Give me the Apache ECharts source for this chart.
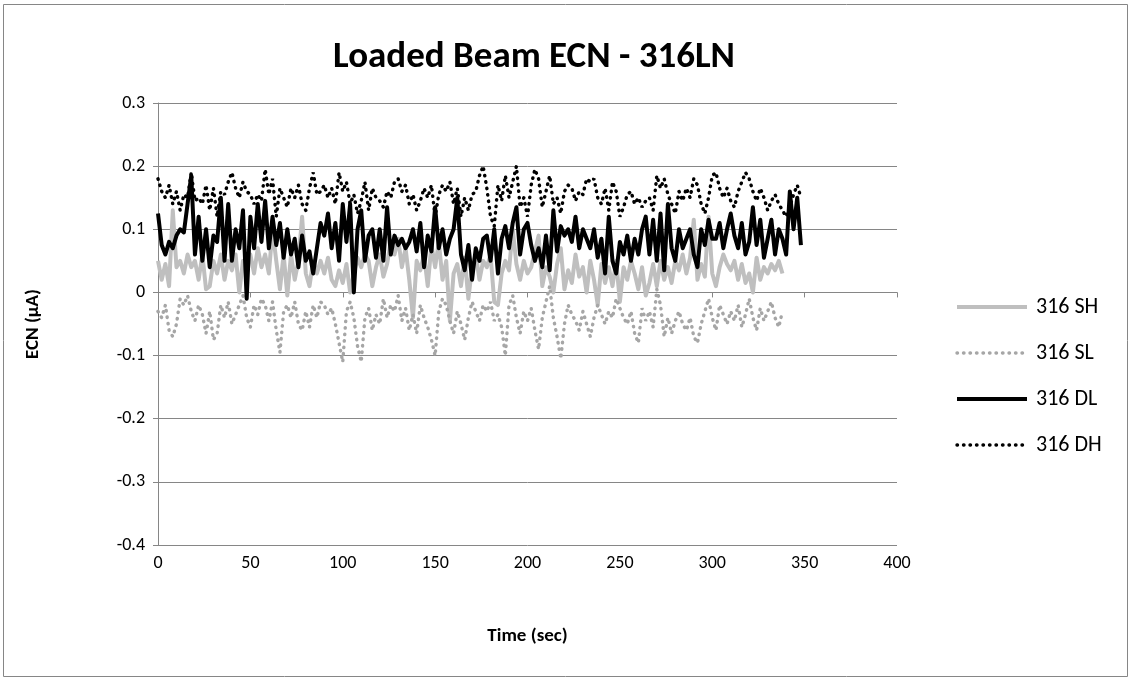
<!DOCTYPE html>
<html>
<head>
<meta charset="utf-8">
<title>Loaded Beam ECN - 316LN</title>
<script src="https://cdn.jsdelivr.net/npm/echarts@6/dist/echarts.min.js"></script>
<style>
  html, body { margin: 0; padding: 0; background: #fff; }
  #chart { width: 1131px; height: 681px; }
</style>
</head>
<body>
<div id="chart"></div>
<script>
// Sampling interval of the recorded noise signals (seconds)
const sampleStep = 2;

const seriesNames = ['316 SH', '316 SL', '316 DL', '316 DH'];
const xTicks = [0, 50, 100, 150, 200, 250, 300, 350, 400];
const yTicks = [-0.4, -0.3, -0.2, -0.1, 0, 0.1, 0.2, 0.3];

// 316 SH (µA), t = 0 … 338 s
const sh = [
  0.05, 0.02, 0.045, 0.01, 0.13, 0.04, 0.05, 0.03, 0.06, 0.04,
  0.05, 0.02, 0.06, 0.005, 0.01, 0.05, 0.03, 0.06, 0.02, 0.05,
  0.035, 0.06, 0.0, 0.05, 0.04, 0.06, 0.03, 0.07, 0.04, 0.06,
  0.03, 0.1, 0.05, 0.005, 0.06, -0.005, 0.06, 0.02, 0.05, 0.12,
  0.03, 0.01, 0.05, 0.03, 0.05,
  0.03, 0.055, 0.02, 0.01, 0.035, 0.015, 0.045, 0.0, 0.03, 0.055,
  0.04, 0.06, 0.05, 0.01, 0.04, 0.06, 0.025, 0.045, 0.08, 0.06,
  0.085, 0.04, 0.07, 0.02, -0.04, 0.05, 0.035, 0.06, 0.01, 0.075,
  0.04, 0.08, 0.02, 0.05, -0.045, 0.03, 0.045, 0.01, 0.055, -0.01,
  0.04, 0.06, 0.02, 0.05,
  0.04, 0.06, -0.015, -0.02, 0.03, 0.05, 0.035, 0.1, 0.045, 0.02,
  0.05, 0.03, 0.04, 0.065, 0.09, 0.01, 0.04, 0.025, 0.0, 0.045,
  0.07, 0.005, 0.035, 0.015, 0.06, 0.025, 0.04, 0.0, 0.05, 0.02,
  -0.02, 0.045, 0.015, 0.04, 0.01, 0.05, -0.015, 0.04, 0.02, 0.05,
  0.03, 0.005, 0.04, -0.005,
  0.015, 0.045, 0.01, 0.05, 0.02, 0.04, 0.015, 0.05, 0.035, 0.06,
  0.03, 0.055, 0.115, 0.02, 0.045, 0.025, 0.12, 0.03, 0.01, 0.04,
  0.06, 0.045, 0.035, 0.05, 0.02, 0.045, 0.015, 0.03, 0.0, 0.055,
  0.02, 0.04, 0.03, 0.045, 0.035, 0.05, 0.03
];

// 316 SL (µA), t = 0 … 338 s
const sl = [
  -0.03, -0.04, -0.02, -0.06, -0.07, -0.05, -0.01, -0.02, -0.005, -0.03,
  -0.045, -0.02, -0.035, -0.065, -0.03, -0.075, -0.065, -0.02, -0.04, -0.015,
  -0.05, -0.035, -0.02, -0.005, -0.04, -0.055, -0.02, -0.035, -0.01, -0.02,
  -0.045, -0.015, -0.06, -0.095, -0.03, -0.02, -0.04, -0.015, -0.05, -0.06,
  -0.03, -0.055, -0.02, -0.04, -0.015,
  -0.02, -0.035, -0.025, -0.05, -0.08, -0.11, -0.03, -0.015, -0.04, -0.085,
  -0.11, -0.04, -0.025, -0.06, -0.035, -0.05, -0.01, -0.04, -0.02, -0.03,
  -0.005, -0.045, -0.025, -0.06, -0.035, -0.065, -0.02, -0.04, -0.055, -0.075,
  -0.1, -0.03, -0.01, -0.02, -0.045, -0.065, -0.03, -0.05, -0.075, -0.04,
  -0.015, -0.03, -0.045, -0.02,
  -0.03, -0.015, -0.045, -0.035, -0.055, -0.1, -0.02, -0.005, -0.04, -0.065,
  -0.03, -0.045, -0.025, -0.06, -0.09, -0.04, -0.015, 0.01, -0.04, -0.07,
  -0.105, -0.05, -0.02, -0.035, -0.045, -0.06, -0.03, -0.05, -0.07, -0.04,
  -0.02, -0.035, -0.05, -0.03, -0.04, -0.01, -0.025, -0.04, -0.05, -0.03,
  -0.065, -0.08, -0.025, -0.045,
  -0.03, -0.055, 0.005, -0.02, -0.07, -0.04, -0.065, -0.045, -0.03, -0.05,
  -0.06, -0.04, -0.07, -0.08, -0.05, -0.03, -0.01, -0.04, -0.06, -0.02,
  -0.035, -0.05, -0.03, -0.045, -0.02, -0.055, -0.035, -0.01, -0.04, -0.06,
  -0.025, -0.045, -0.03, -0.015, -0.04, -0.055, -0.03
];

// 316 DL (µA), t = 0 … 348 s
const dl = [
  0.125, 0.075, 0.06, 0.08, 0.07, 0.09, 0.1, 0.095, 0.14, 0.185,
  0.06, 0.12, 0.05, 0.1, 0.04, 0.09, 0.08, 0.15, 0.05, 0.14,
  0.05, 0.1, 0.07, 0.13, -0.01, 0.12, 0.07, 0.14, 0.08, 0.145,
  0.07, 0.12, 0.075, 0.11, 0.055, 0.1, 0.06, 0.085, 0.04, 0.09,
  0.05, 0.065, 0.03, 0.07, 0.11,
  0.09, 0.125, 0.07, 0.11, 0.05, 0.14, 0.08, 0.14, 0.0, 0.1,
  0.13, 0.05, 0.09, 0.1, 0.055, 0.1, 0.05, 0.135, 0.06, 0.09,
  0.075, 0.085, 0.07, 0.08, 0.1, 0.065, 0.11, 0.04, 0.09, 0.065,
  0.135, 0.07, 0.1, 0.06, 0.085, 0.1, 0.15, 0.06, 0.035, 0.075,
  0.02, 0.07, 0.05, 0.085,
  0.09, 0.05, 0.1, 0.03, 0.085, 0.105, 0.07, 0.11, 0.135, 0.06,
  0.1, 0.11, 0.075, 0.05, 0.07, 0.04, 0.09, 0.035, 0.13, 0.065,
  0.105, 0.09, 0.1, 0.08, 0.12, 0.07, 0.1, 0.085, 0.07, 0.1,
  0.055, 0.085, 0.03, 0.12, 0.05, 0.03, 0.08, 0.06, 0.09, 0.05,
  0.085, 0.06, 0.1, 0.12,
  0.06, 0.115, 0.05, 0.125, 0.035, 0.14, 0.07, 0.05, 0.1, 0.07,
  0.085, 0.1, 0.06, 0.04, 0.1, 0.075, 0.115, 0.085, 0.085, 0.11,
  0.07, 0.1, 0.125, 0.09, 0.07, 0.11, 0.06, 0.08, 0.135, 0.075,
  0.115, 0.055, 0.085, 0.115, 0.06, 0.1, 0.085, 0.06, 0.16, 0.1,
  0.15, 0.075
];

// 316 DH (µA), t = 0 … 348 s
const dh = [
  0.18, 0.16, 0.15, 0.17, 0.14, 0.16, 0.13, 0.155, 0.15, 0.19,
  0.145, 0.15, 0.14, 0.17, 0.13, 0.165, 0.12, 0.16, 0.155, 0.175,
  0.19, 0.165, 0.15, 0.175, 0.16, 0.155, 0.14, 0.155, 0.145, 0.195,
  0.155, 0.18, 0.12, 0.165, 0.15, 0.135, 0.165, 0.15, 0.17, 0.14,
  0.13, 0.165, 0.19, 0.155, 0.16,
  0.17, 0.15, 0.165, 0.14, 0.19, 0.16, 0.175, 0.14, 0.155, 0.125,
  0.145, 0.175, 0.13, 0.165, 0.15, 0.145, 0.135, 0.16, 0.15, 0.175,
  0.18, 0.16, 0.17, 0.14, 0.155, 0.13, 0.145, 0.165, 0.15, 0.17,
  0.12, 0.155, 0.17, 0.16, 0.175, 0.14, 0.165, 0.12, 0.15, 0.13,
  0.155, 0.16, 0.185, 0.2,
  0.165, 0.12, 0.105, 0.17, 0.145, 0.185, 0.15, 0.175, 0.2, 0.135,
  0.15, 0.12, 0.17, 0.195, 0.18, 0.135, 0.16, 0.185, 0.14, 0.15,
  0.125, 0.16, 0.17, 0.165, 0.145, 0.16, 0.155, 0.18, 0.175, 0.18,
  0.15, 0.14, 0.165, 0.13, 0.175, 0.16, 0.12, 0.135, 0.155, 0.16,
  0.14, 0.15, 0.135, 0.145,
  0.15, 0.13, 0.185, 0.165, 0.18, 0.155, 0.14, 0.125, 0.16, 0.145,
  0.165, 0.15, 0.18, 0.17, 0.14, 0.125, 0.15, 0.185, 0.19, 0.165,
  0.15, 0.165, 0.145, 0.135, 0.16, 0.175, 0.19, 0.18, 0.16, 0.145,
  0.165, 0.15, 0.13, 0.145, 0.155, 0.14, 0.13, 0.12, 0.135, 0.155,
  0.17, 0.15
];

// Pair each reading with its sample time
function toPoints(values) {
  return values.map((v, i) => [i * sampleStep, v]);
}

const FONT = 'Carlito, Lato, "Open Sans", sans-serif';
const GRID_GRAY = '#868686';

const chart = echarts.init(document.getElementById('chart'), null, { renderer: 'canvas' });

const dotted = [0.5, 6];

chart.setOption({
  animation: false,
  backgroundColor: '#ffffff',
  textStyle: { fontFamily: FONT, color: '#000' },
  graphic: [
    {
      type: 'rect',
      shape: { x: 3.5, y: 4.5, width: 1124, height: 672 },
      style: { fill: 'none', stroke: GRID_GRAY, lineWidth: 1 },
      silent: true
    },
    {
      type: 'text',
      x: 534, y: 58,
      style: {
        text: 'Loaded Beam ECN - 316LN',
        font: 'bold 37px ' + FONT,
        fill: '#000',
        textAlign: 'center',
        textVerticalAlign: 'middle'
      },
      silent: true
    }
  ],
  grid: { left: 158, right: 234, top: 103, bottom: 136, containLabel: false },
  legend: {
    orient: 'vertical',
    left: 955,
    top: 296,
    padding: 0,
    itemWidth: 70,
    itemHeight: 14,
    itemGap: 24,
    itemStyle: { opacity: 0 },
    lineStyle: { width: 'inherit' },
    textStyle: { fontSize: 22, fontFamily: FONT, color: '#000', padding: [0, 0, 0, 4] },
    data: seriesNames
  },
  xAxis: [
    {
      type: 'value',
      min: xTicks[0],
      max: xTicks[xTicks.length - 1],
      interval: 50,
      position: 'bottom',
      axisLine: { show: true, onZero: true, lineStyle: { color: GRID_GRAY, width: 1 } },
      axisTick: { show: true, length: 5, lineStyle: { color: GRID_GRAY, width: 1 } },
      axisLabel: { show: false },
      splitLine: { show: false }
    },
    {
      type: 'value',
      min: xTicks[0],
      max: xTicks[xTicks.length - 1],
      interval: 50,
      position: 'bottom',
      axisLine: { show: false, onZero: false },
      axisTick: { show: false },
      splitLine: { show: false },
      axisLabel: { show: true, margin: 9, fontSize: 18, fontFamily: FONT, color: '#000' },
      name: 'Time (sec)',
      nameLocation: 'middle',
      nameGap: 82,
      nameTextStyle: { fontSize: 19, fontWeight: 'bold', fontFamily: FONT, color: '#000' }
    }
  ],
  yAxis: {
    type: 'value',
    min: yTicks[0],
    max: yTicks[yTicks.length - 1],
    interval: 0.1,
    axisLine: { show: true, onZero: false, lineStyle: { color: GRID_GRAY, width: 1 } },
    axisTick: { show: true, length: 5, lineStyle: { color: GRID_GRAY, width: 1 } },
    axisLabel: {
      margin: 13,
      fontSize: 18,
      fontFamily: FONT,
      color: '#000',
      formatter: v => String(Math.round(v * 10) / 10)
    },
    splitLine: { show: true, lineStyle: { color: GRID_GRAY, width: 1 } },
    name: 'ECN (µA)',
    nameLocation: 'middle',
    nameGap: 115,
    nameTextStyle: { fontSize: 19, fontWeight: 'bold', fontFamily: FONT, color: '#000' }
  },
  series: [
    {
      name: seriesNames[0], type: 'line', xAxisIndex: 0, data: toPoints(sh),
      symbol: 'none', showSymbol: false,
      lineStyle: { color: '#BFBFBF', width: 4, join: 'round' },
      itemStyle: { color: '#BFBFBF' }
    },
    {
      name: seriesNames[1], type: 'line', xAxisIndex: 0, data: toPoints(sl),
      symbol: 'none', showSymbol: false,
      lineStyle: { color: '#A6A6A6', width: 3.4, type: dotted, cap: 'round' },
      itemStyle: { color: '#A6A6A6' }
    },
    {
      name: seriesNames[2], type: 'line', xAxisIndex: 0, data: toPoints(dl),
      symbol: 'none', showSymbol: false,
      lineStyle: { color: '#000000', width: 4, join: 'round' },
      itemStyle: { color: '#000000' }
    },
    {
      name: seriesNames[3], type: 'line', xAxisIndex: 0, data: toPoints(dh),
      symbol: 'none', showSymbol: false,
      lineStyle: { color: '#000000', width: 3.4, type: dotted, cap: 'round' },
      itemStyle: { color: '#000000' }
    }
  ]
});
</script>
</body>
</html>
